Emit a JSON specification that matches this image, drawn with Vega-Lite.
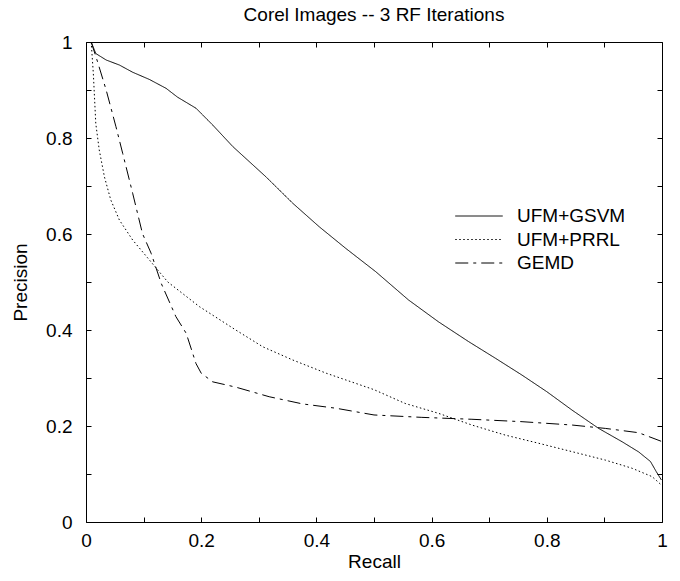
{
  "$schema": "https://vega.github.io/schema/vega-lite/v6.json",
  "width": 576,
  "height": 480,
  "autosize": {"type": "none"},
  "padding": {"left": 86, "top": 42, "right": 18, "bottom": 59},
  "background": "white",
  "config": {
    "font": "Liberation Sans",
    "view": {"stroke": "#000", "strokeWidth": 1},
    "axis": {"labelFont": "Liberation Sans", "titleFont": "Liberation Sans", "labelColor": "#000", "titleColor": "#000", "titleFontWeight": "normal", "grid": false, "domain": false, "tickColor": "#000", "tickSize": -5, "tickWidth": 1}
  },
  "title": {"text": "Corel Images -- 3 RF Iterations", "fontSize": 19, "fontWeight": "normal", "font": "Liberation Sans", "color": "#000", "anchor": "middle", "offset": 8},
  "data": {"values": [
    {"s": "UFM+GSVM", "recall": 0.009, "precision": 1.0},
    {"s": "UFM+GSVM", "recall": 0.017, "precision": 0.976},
    {"s": "UFM+GSVM", "recall": 0.035, "precision": 0.9625},
    {"s": "UFM+GSVM", "recall": 0.058, "precision": 0.952},
    {"s": "UFM+GSVM", "recall": 0.081, "precision": 0.937},
    {"s": "UFM+GSVM", "recall": 0.11, "precision": 0.922},
    {"s": "UFM+GSVM", "recall": 0.139, "precision": 0.9035},
    {"s": "UFM+GSVM", "recall": 0.159, "precision": 0.885},
    {"s": "UFM+GSVM", "recall": 0.191, "precision": 0.862},
    {"s": "UFM+GSVM", "recall": 0.22, "precision": 0.827},
    {"s": "UFM+GSVM", "recall": 0.255, "precision": 0.782},
    {"s": "UFM+GSVM", "recall": 0.3125, "precision": 0.719},
    {"s": "UFM+GSVM", "recall": 0.359, "precision": 0.664},
    {"s": "UFM+GSVM", "recall": 0.405, "precision": 0.615},
    {"s": "UFM+GSVM", "recall": 0.451, "precision": 0.57},
    {"s": "UFM+GSVM", "recall": 0.503, "precision": 0.5215},
    {"s": "UFM+GSVM", "recall": 0.56, "precision": 0.4625},
    {"s": "UFM+GSVM", "recall": 0.612, "precision": 0.417},
    {"s": "UFM+GSVM", "recall": 0.664, "precision": 0.376},
    {"s": "UFM+GSVM", "recall": 0.711, "precision": 0.341},
    {"s": "UFM+GSVM", "recall": 0.757, "precision": 0.306},
    {"s": "UFM+GSVM", "recall": 0.8, "precision": 0.2715},
    {"s": "UFM+GSVM", "recall": 0.844, "precision": 0.233},
    {"s": "UFM+GSVM", "recall": 0.89, "precision": 0.195},
    {"s": "UFM+GSVM", "recall": 0.931, "precision": 0.167},
    {"s": "UFM+GSVM", "recall": 0.9595, "precision": 0.146},
    {"s": "UFM+GSVM", "recall": 0.98, "precision": 0.126},
    {"s": "UFM+GSVM", "recall": 0.99, "precision": 0.105},
    {"s": "UFM+GSVM", "recall": 0.999, "precision": 0.0875},
    {"s": "UFM+PRRL", "recall": 0.009, "precision": 1.0},
    {"s": "UFM+PRRL", "recall": 0.0127, "precision": 0.935},
    {"s": "UFM+PRRL", "recall": 0.017, "precision": 0.83},
    {"s": "UFM+PRRL", "recall": 0.023, "precision": 0.775},
    {"s": "UFM+PRRL", "recall": 0.032, "precision": 0.719},
    {"s": "UFM+PRRL", "recall": 0.043, "precision": 0.671},
    {"s": "UFM+PRRL", "recall": 0.058, "precision": 0.629},
    {"s": "UFM+PRRL", "recall": 0.081, "precision": 0.5875},
    {"s": "UFM+PRRL", "recall": 0.11, "precision": 0.546},
    {"s": "UFM+PRRL", "recall": 0.142, "precision": 0.5},
    {"s": "UFM+PRRL", "recall": 0.197, "precision": 0.4486},
    {"s": "UFM+PRRL", "recall": 0.26, "precision": 0.4},
    {"s": "UFM+PRRL", "recall": 0.307, "precision": 0.365},
    {"s": "UFM+PRRL", "recall": 0.359, "precision": 0.3375},
    {"s": "UFM+PRRL", "recall": 0.417, "precision": 0.31},
    {"s": "UFM+PRRL", "recall": 0.5, "precision": 0.2757},
    {"s": "UFM+PRRL", "recall": 0.554, "precision": 0.247},
    {"s": "UFM+PRRL", "recall": 0.612, "precision": 0.2264},
    {"s": "UFM+PRRL", "recall": 0.67, "precision": 0.202},
    {"s": "UFM+PRRL", "recall": 0.728, "precision": 0.181},
    {"s": "UFM+PRRL", "recall": 0.786, "precision": 0.164},
    {"s": "UFM+PRRL", "recall": 0.844, "precision": 0.1465},
    {"s": "UFM+PRRL", "recall": 0.9016, "precision": 0.129},
    {"s": "UFM+PRRL", "recall": 0.948, "precision": 0.112},
    {"s": "UFM+PRRL", "recall": 0.983, "precision": 0.0944},
    {"s": "UFM+PRRL", "recall": 0.999, "precision": 0.077},
    {"s": "GEMD", "recall": 0.009, "precision": 1.0},
    {"s": "GEMD", "recall": 0.02, "precision": 0.959},
    {"s": "GEMD", "recall": 0.035, "precision": 0.9},
    {"s": "GEMD", "recall": 0.052, "precision": 0.8236},
    {"s": "GEMD", "recall": 0.0637, "precision": 0.768},
    {"s": "GEMD", "recall": 0.081, "precision": 0.685},
    {"s": "GEMD", "recall": 0.098, "precision": 0.601},
    {"s": "GEMD", "recall": 0.113, "precision": 0.56},
    {"s": "GEMD", "recall": 0.131, "precision": 0.496},
    {"s": "GEMD", "recall": 0.156, "precision": 0.428},
    {"s": "GEMD", "recall": 0.174, "precision": 0.393},
    {"s": "GEMD", "recall": 0.191, "precision": 0.33},
    {"s": "GEMD", "recall": 0.2, "precision": 0.31},
    {"s": "GEMD", "recall": 0.22, "precision": 0.292},
    {"s": "GEMD", "recall": 0.26, "precision": 0.281},
    {"s": "GEMD", "recall": 0.318, "precision": 0.261},
    {"s": "GEMD", "recall": 0.376, "precision": 0.246},
    {"s": "GEMD", "recall": 0.434, "precision": 0.237},
    {"s": "GEMD", "recall": 0.5, "precision": 0.223},
    {"s": "GEMD", "recall": 0.583, "precision": 0.218},
    {"s": "GEMD", "recall": 0.67, "precision": 0.214},
    {"s": "GEMD", "recall": 0.757, "precision": 0.209},
    {"s": "GEMD", "recall": 0.844, "precision": 0.202},
    {"s": "GEMD", "recall": 0.9016, "precision": 0.195},
    {"s": "GEMD", "recall": 0.9595, "precision": 0.186},
    {"s": "GEMD", "recall": 0.999, "precision": 0.168}
  ]},
  "resolve": {"axis": {"x": "independent", "y": "independent"}},
  "layer": [
    {
      "mark": {"type": "line", "color": "#000", "strokeWidth": 1},
      "encoding": {
        "x": {"field": "recall", "type": "quantitative", "scale": {"domain": [0, 1], "nice": false, "zero": false},
          "axis": {"title": "Recall", "values": [0, 0.1, 0.2, 0.3, 0.4, 0.5, 0.6, 0.7, 0.8, 0.9, 1], "labelExpr": "(round(datum.value*10)%2==0) ? format(datum.value, '~g') : ''", "labelFontSize": 19, "titleFontSize": 19, "labelPadding": 14, "titlePadding": 2, "labelFlush": false, "labelOverlap": false}},
        "y": {"field": "precision", "type": "quantitative", "scale": {"domain": [0, 1], "nice": false, "zero": false},
          "axis": {"title": "Precision", "values": [0, 0.1, 0.2, 0.3, 0.4, 0.5, 0.6, 0.7, 0.8, 0.9, 1], "labelExpr": "(round(datum.value*10)%2==0) ? format(datum.value, '~g') : ''", "labelFontSize": 19, "titleFontSize": 19, "labelPadding": 19, "titlePadding": 15, "labelFlush": false, "labelOverlap": false}},
        "strokeDash": {"field": "s", "type": "nominal",
          "scale": {"domain": ["UFM+GSVM", "UFM+PRRL", "GEMD"], "range": [[1, 0], [1.5, 2.5], [13, 5, 3, 5]]},
          "legend": {"title": null, "orient": "none", "legendX": 383, "legendY": 164, "symbolType": "M-2.5,0L2.5,0", "symbolSize": 361, "symbolFillColor": "transparent", "symbolStrokeColor": "#000", "symbolStrokeWidth": 1, "labelFontSize": 19, "labelFont": "Liberation Sans", "labelColor": "#000", "labelOffset": 28, "rowPadding": 3.5, "padding": 0}}
      }
    },
    {
      "mark": {"type": "line", "opacity": 0},
      "encoding": {
        "x": {"field": "recall", "type": "quantitative", "scale": {"domain": [0, 1], "nice": false, "zero": false},
          "axis": {"orient": "top", "title": null, "labels": false, "values": [0, 0.1, 0.2, 0.3, 0.4, 0.5, 0.6, 0.7, 0.8, 0.9, 1]}},
        "y": {"field": "precision", "type": "quantitative", "scale": {"domain": [0, 1], "nice": false, "zero": false},
          "axis": {"orient": "right", "title": null, "labels": false, "values": [0, 0.1, 0.2, 0.3, 0.4, 0.5, 0.6, 0.7, 0.8, 0.9, 1]}},
        "detail": {"field": "s", "type": "nominal"}
      }
    }
  ]
}
